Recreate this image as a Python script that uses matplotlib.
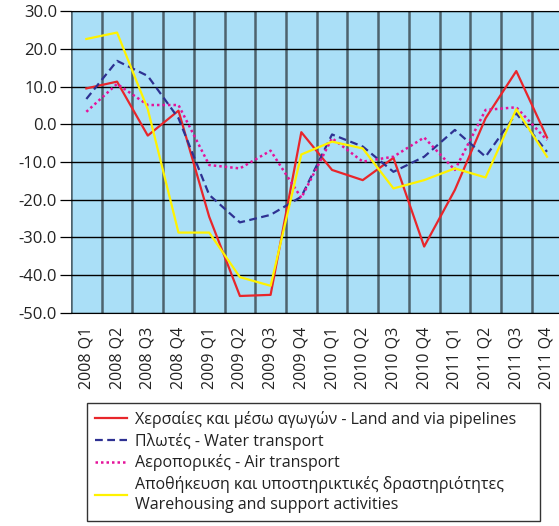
import matplotlib

matplotlib.use("Agg")
import matplotlib.pyplot as plt
from matplotlib.ticker import FixedLocator

plt.rcParams["font.family"] = ["Open Sans", "DejaVu Sans"]
plt.rcParams["axes.unicode_minus"] = False

quarters = ["2008 Q1", "2008 Q2", "2008 Q3", "2008 Q4",
            "2009 Q1", "2009 Q2", "2009 Q3", "2009 Q4",
            "2010 Q1", "2010 Q2", "2010 Q3", "2010 Q4",
            "2011 Q1", "2011 Q2", "2011 Q3", "2011 Q4"]

land = [9.5, 11.3, -3.0, 3.6, -24.5, -45.5, -45.2, -2.1,
        -12.1, -14.8, -8.9, -32.4, -17.4, 1.6, 14.1, -3.5]
water = [6.7, 16.8, 12.8, 1.6, -18.7, -26.0, -24.0, -19.2,
         -2.7, -5.9, -12.6, -8.6, -1.5, -8.6, 2.9, -7.3]
air = [3.3, 10.7, 5.1, 5.1, -10.8, -11.7, -7.0, -19.5,
       -3.7, -9.9, -8.6, -3.5, -12.1, 3.8, 4.5, -4.2]
storage = [22.6, 24.3, 4.0, -28.7, -28.7, -40.5, -42.8, -8.0,
           -4.6, -6.4, -17.0, -14.8, -11.7, -14.1, 4.0, -8.6]

labels = ["Χερσαίες και μέσω αγωγών - Land and via pipelines",
          "Πλωτές - Water transport",
          "Αεροπορικές - Air transport",
          "Αποθήκευση και υποστηρικτικές δραστηριότητες\n"
          "Warehousing and support activities"]

fig = plt.figure(figsize=(5.59, 5.26), dpi=100)
ax = fig.add_axes([0.127, 0.405, 0.879, 0.574])
ax.set_facecolor("#aadff7")

x = range(len(quarters))
ax.plot(x, land, color="#e8262b", lw=1.6, label=labels[0])
ax.plot(x, water, color="#2e3192", lw=1.6, ls=(0, (3.5, 2)), label=labels[1])
ax.plot(x, air, color="#e5139a", lw=1.8, ls=(0, (1, 1.2)), label=labels[2])
ax.plot(x, storage, color="#fff200", lw=1.6, label=labels[3])

ax.set_xlim(-0.5, len(quarters) - 0.5)
ax.set_ylim(-50, 30)
ax.set_yticks(range(-50, 31, 10))
ax.set_yticklabels([f"{v:.1f}" for v in range(-50, 31, 10)], fontsize=12,
                   color="#222222")
ax.set_xticks(list(x))
ax.set_xticklabels(quarters, rotation=90, fontsize=11.5, color="#222222")
ax.xaxis.set_minor_locator(FixedLocator([i - 0.5 for i in range(len(quarters) + 1)]))
ax.tick_params(axis="x", which="both", length=0, pad=10)
ax.tick_params(axis="y", length=8, width=0.9, direction="out", pad=2)

ax.grid(True, axis="y", which="major", color="black", lw=1.0)
ax.grid(True, axis="x", which="minor", color="#3d4d55", lw=1.8, alpha=0.85)
ax.set_axisbelow(True)
for side in ["left", "right"]:
    ax.spines[side].set_visible(False)
ax.spines["top"].set_color("black")
ax.spines["bottom"].set_color("black")

leg = fig.legend(loc="upper left", bbox_to_anchor=(0.155, 0.002, 0.811, 0.232),
                 mode="expand", borderaxespad=0, fontsize=11.5, frameon=True,
                 fancybox=False, handlelength=2.0, handletextpad=0.5,
                 labelspacing=0.3, borderpad=0.5, labelcolor="#222222")
leg.get_texts()[3].set_linespacing(1.35)
leg.get_frame().set_edgecolor("black")
leg.get_frame().set_linewidth(1.0)

fig.savefig("out.png", dpi=100)
